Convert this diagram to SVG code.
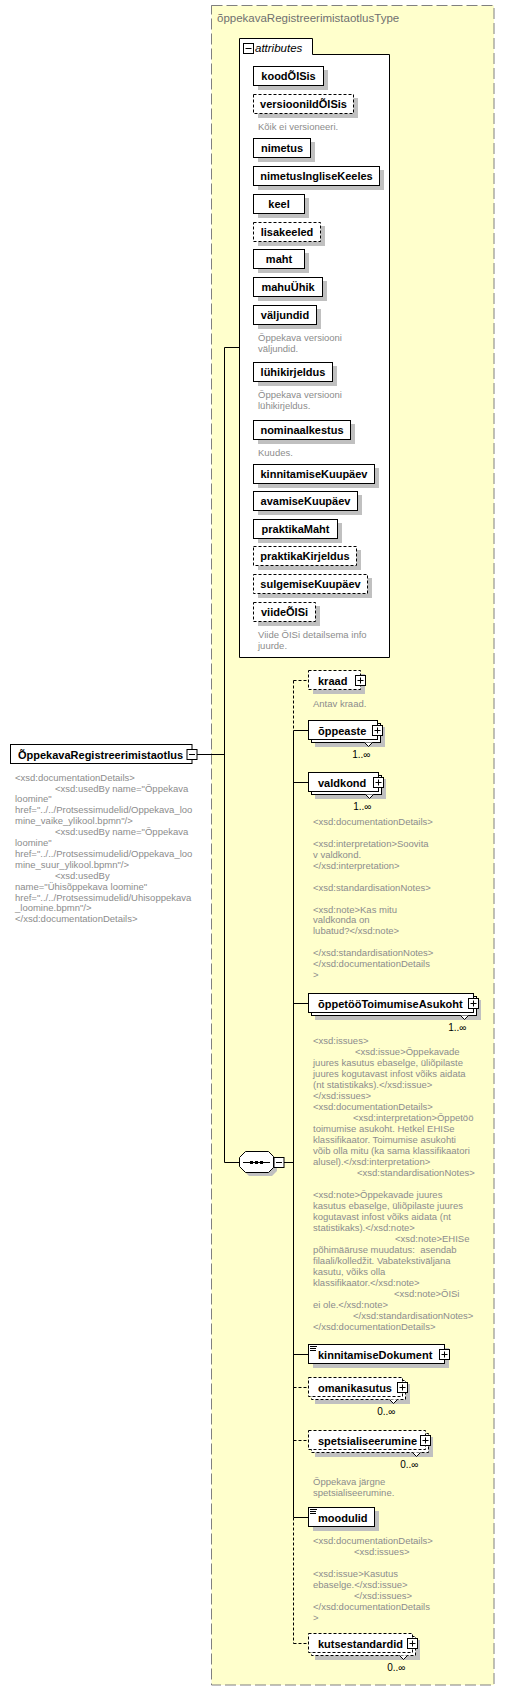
<svg xmlns="http://www.w3.org/2000/svg" width="505" height="1690" viewBox="0 0 505 1690">
<style>
.n{font-family:"Liberation Sans",Arial,sans-serif;font-size:11px;font-weight:bold;fill:#000}
.c{text-anchor:middle}
.d{font-family:"Liberation Sans",Arial,sans-serif;font-size:9.5px;fill:#8c8c8c}
.m{font-family:"Liberation Sans",Arial,sans-serif;font-size:10px;fill:#000;text-anchor:end}
.t{font-family:"Liberation Sans",Arial,sans-serif;font-size:11.5px;fill:#707070}
.bx{fill:#fff;stroke:#000;stroke-width:1}
.o{stroke-dasharray:3,2}
.sh{fill:#c0c0c0}
.ln{fill:none;stroke:#000;stroke-width:1}
.dl{stroke-dasharray:3,2}
.nt{fill:#fff;stroke:#000;stroke-width:1}
</style>
<defs>
<g id="plus"><rect x="-5" y="-5" width="10" height="10" fill="#fff" stroke="#000"/><path d="M-3,0H3M0,-3V3" stroke="#000"/></g>
<g id="minus"><rect x="-5" y="-5" width="10" height="10" fill="#fff" stroke="#000"/><path d="M-3,0H3" stroke="#000"/></g>
</defs>

<g id="complexType">
<rect x="211.5" y="5.5" width="282.5" height="1679.5" fill="#ffffcc" stroke="#808080" stroke-dasharray="11,4"/>
<text class="t" x="217" y="22">õppekavaRegistreerimistaotlusType</text>
</g>

<g id="connectors">
<path class="ln" d="M197,754.5H224.5M224.5,347.5V1162.5M224.5,347.5H239.5M224.5,1162.5H239M284,1162.5H293.5"/>
<path class="ln dl" d="M293.5,680.5H308.5M293.5,680.5V730.5"/>
<path class="ln" d="M293.5,730.5V1517.5M293.5,730.5H308.5M293.5,782.5H308.5M293.5,1003.5H308.5M293.5,1354.5H308.5M293.5,1517.5H308.5"/>
<path class="ln dl" d="M293.5,1387.5H308.5M293.5,1440.5H308.5M293.5,1517.5V1643.5M293.5,1643.5H308.5"/>
</g>

<g id="root">
<rect class="bx" x="10.5" y="744.5" width="181.5" height="19"/>
<text class="n" x="18" y="758.5">ÕppekavaRegistreerimistaotlus</text>
<use href="#minus" x="192" y="754.5"/>
<text class="d" x="15" y="780.6">&lt;xsd:documentationDetails&gt;</text>
<text class="d" x="55" y="791.5">&lt;xsd:usedBy name="Õppekava</text>
<text class="d" x="15" y="802.4">loomine"</text>
<text class="d" x="15" y="813.3">href="../../Protsessimudelid/Oppekava_loo</text>
<text class="d" x="15" y="824.2">mine_vaike_ylikool.bpmn"/&gt;</text>
<text class="d" x="55" y="835.1">&lt;xsd:usedBy name="Õppekava</text>
<text class="d" x="15" y="846">loomine"</text>
<text class="d" x="15" y="856.9">href="../../Protsessimudelid/Oppekava_loo</text>
<text class="d" x="15" y="867.8">mine_suur_ylikool.bpmn"/&gt;</text>
<text class="d" x="55" y="878.7">&lt;xsd:usedBy</text>
<text class="d" x="15" y="889.6">name="Ühisõppekava loomine"</text>
<text class="d" x="15" y="900.5">href="../../Protsessimudelid/Uhisoppekava</text>
<text class="d" x="15" y="911.4">_loomine.bpmn"/&gt;</text>
<text class="d" x="15" y="922.3">&lt;/xsd:documentationDetails&gt;</text>
</g>

<g id="attributes">
<path class="bx" d="M239.5,38.5H312.5V54.5H389.5V657.5H239.5Z"/>
<use href="#minus" x="248.5" y="48.5"/>
<text x="255" y="52" font-family="Liberation Sans, Arial, sans-serif" font-size="11.5" font-style="italic" fill="#000">attributes</text>
</g>

<g id="attr-koodOISis"><rect class="sh" x="258" y="70" width="70" height="20"/><rect class="bx" x="253.5" y="66.5" width="70" height="19"/><text class="n c" x="288.5" y="80">koodÕISis</text></g>
<g id="attr-versioonildOISis"><rect class="sh" x="258" y="98" width="100" height="20"/><rect class="bx o" x="253.5" y="94.5" width="100" height="19"/><text class="n c" x="303.5" y="108">versioonildÕISis</text><text class="d" x="258" y="129.5">Kõik ei versioneeri.</text></g>
<g id="attr-nimetus"><rect class="sh" x="258" y="142" width="57" height="20"/><rect class="bx" x="253.5" y="138.5" width="57" height="19"/><text class="n c" x="282" y="152">nimetus</text></g>
<g id="attr-nimetusIngliseKeeles"><rect class="sh" x="258" y="170" width="126" height="20"/><rect class="bx" x="253.5" y="166.5" width="126" height="19"/><text class="n c" x="316.5" y="180">nimetusIngliseKeeles</text></g>
<g id="attr-keel"><rect class="sh" x="258" y="198" width="51" height="20"/><rect class="bx" x="253.5" y="194.5" width="51" height="19"/><text class="n c" x="279" y="208">keel</text></g>
<g id="attr-lisakeeled"><rect class="sh" x="258" y="226" width="67" height="20"/><rect class="bx o" x="253.5" y="222.5" width="67" height="19"/><text class="n c" x="287" y="236">lisakeeled</text></g>
<g id="attr-maht"><rect class="sh" x="258" y="253" width="51" height="20"/><rect class="bx" x="253.5" y="249.5" width="51" height="19"/><text class="n c" x="279" y="263">maht</text></g>
<g id="attr-mahuYhik"><rect class="sh" x="258" y="281" width="69" height="20"/><rect class="bx" x="253.5" y="277.5" width="69" height="19"/><text class="n c" x="288" y="291">mahuÜhik</text></g>
<g id="attr-valjundid"><rect class="sh" x="258" y="309" width="63" height="20"/><rect class="bx" x="253.5" y="305.5" width="63" height="19"/><text class="n c" x="285" y="319">väljundid</text><text class="d" x="258" y="340.5">Õppekava versiooni</text><text class="d" x="258" y="351.5">väljundid.</text></g>
<g id="attr-luhikirjeldus"><rect class="sh" x="258" y="366" width="79" height="20"/><rect class="bx" x="253.5" y="362.5" width="79" height="19"/><text class="n c" x="293" y="376">lühikirjeldus</text><text class="d" x="258" y="397.5">Õppekava versiooni</text><text class="d" x="258" y="408.5">lühikirjeldus.</text></g>
<g id="attr-nominaalkestus"><rect class="sh" x="258" y="424" width="97" height="20"/><rect class="bx" x="253.5" y="420.5" width="97" height="19"/><text class="n c" x="302" y="434">nominaalkestus</text><text class="d" x="258" y="455.5">Kuudes.</text></g>
<g id="attr-kinnitamiseKuupaev"><rect class="sh" x="258" y="468" width="121" height="20"/><rect class="bx" x="253.5" y="464.5" width="121" height="19"/><text class="n c" x="314" y="478">kinnitamiseKuupäev</text></g>
<g id="attr-avamiseKuupaev"><rect class="sh" x="258" y="495" width="104" height="20"/><rect class="bx" x="253.5" y="491.5" width="104" height="19"/><text class="n c" x="305.5" y="505">avamiseKuupäev</text></g>
<g id="attr-praktikaMaht"><rect class="sh" x="258" y="523" width="84" height="20"/><rect class="bx" x="253.5" y="519.5" width="84" height="19"/><text class="n c" x="295.5" y="533">praktikaMaht</text></g>
<g id="attr-praktikaKirjeldus"><rect class="sh" x="258" y="550" width="103" height="20"/><rect class="bx o" x="253.5" y="546.5" width="103" height="19"/><text class="n c" x="305" y="560">praktikaKirjeldus</text></g>
<g id="attr-sulgemiseKuupaev"><rect class="sh" x="258" y="578" width="114" height="20"/><rect class="bx o" x="253.5" y="574.5" width="114" height="19"/><text class="n c" x="310.5" y="588">sulgemiseKuupäev</text></g>
<g id="attr-viideOISi"><rect class="sh" x="258" y="606" width="62" height="20"/><rect class="bx o" x="253.5" y="602.5" width="62" height="19"/><text class="n c" x="284.5" y="616">viideÕISi</text><text class="d" x="258" y="637.5">Viide ÕISi detailsema info</text><text class="d" x="258" y="648.5">juurde.</text></g>

<g id="sequence">
<polygon class="sh" points="249,1155 272,1155 277,1160 277,1171 272,1176 249,1176 243,1170 243,1161"/>
<polygon class="bx" points="245.5,1151.5 268.5,1151.5 273.5,1156.5 273.5,1167.5 268.5,1172.5 245.5,1172.5 239.5,1166.5 239.5,1157.5"/>
<path class="ln" d="M243,1162.5H270"/>
<rect x="250" y="1161" width="3" height="3" fill="#000"/>
<rect x="255" y="1161" width="3" height="3" fill="#000"/>
<rect x="260" y="1161" width="3" height="3" fill="#000"/>
<use href="#minus" x="279" y="1162.5"/>
</g>

<g id="el-kraad">
<rect class="sh" x="313" y="674" width="52" height="20"/>
<rect class="bx o" x="308.5" y="670.5" width="52" height="19"/>
<text class="n" x="318" y="684.5">kraad</text>
<use href="#plus" x="360.5" y="680.5"/>
<text class="d" x="313" y="706.5">Antav kraad.</text>
</g>

<g id="el-oppeaste">
<rect class="sh" x="315" y="727" width="70" height="20"/>
<rect class="bx" x="311.5" y="723.5" width="69" height="19"/>
<rect class="bx" x="308.5" y="720.5" width="69" height="19"/>
<text class="n" x="318" y="734.5">õppeaste</text>
<use href="#plus" x="377.5" y="730.5"/>
<path class="nt" d="M364.5,742.5l4,4l4,-4"/>
<text class="m" x="370.5" y="757.5">1..∞</text>
</g>

<g id="el-valdkond">
<rect class="sh" x="315" y="779" width="71" height="20"/>
<rect class="bx" x="311.5" y="775.5" width="70" height="19"/>
<rect class="bx" x="308.5" y="772.5" width="70" height="19"/>
<text class="n" x="318" y="786.5">valdkond</text>
<use href="#plus" x="378.5" y="782.5"/>
<path class="nt" d="M365.5,794.5l4,4l4,-4"/>
<text class="m" x="371.5" y="809.5">1..∞</text>
<text class="d" x="313" y="825.3">&lt;xsd:documentationDetails&gt;</text>
<text class="d" x="313" y="847.1">&lt;xsd:interpretation&gt;Soovita</text>
<text class="d" x="313" y="858">v valdkond.</text>
<text class="d" x="313" y="868.9">&lt;/xsd:interpretation&gt;</text>
<text class="d" x="313" y="890.7">&lt;xsd:standardisationNotes&gt;</text>
<text class="d" x="313" y="912.5">&lt;xsd:note&gt;Kas mitu</text>
<text class="d" x="313" y="923.4">valdkonda on</text>
<text class="d" x="313" y="934.3">lubatud?&lt;/xsd:note&gt;</text>
<text class="d" x="313" y="956.1">&lt;/xsd:standardisationNotes&gt;</text>
<text class="d" x="313" y="967">&lt;/xsd:documentationDetails</text>
<text class="d" x="313" y="977.9">&gt;</text>
</g>

<g id="el-oppetooToimumiseAsukoht">
<rect class="sh" x="315" y="1000" width="166" height="20"/>
<rect class="bx" x="311.5" y="996.5" width="165" height="19"/>
<rect class="bx" x="308.5" y="993.5" width="165" height="19"/>
<text class="n" x="318" y="1007.5">õppetööToimumiseAsukoht</text>
<use href="#plus" x="473.5" y="1003.5"/>
<path class="nt" d="M460.5,1015.5l4,4l4,-4"/>
<text class="m" x="466.5" y="1030.5">1..∞</text>
<text class="d" x="313" y="1044.3">&lt;xsd:issues&gt;</text>
<text class="d" x="355" y="1055.3">&lt;xsd:issue&gt;Õppekavade</text>
<text class="d" x="313" y="1066.3">juures kasutus ebaselge, üliõpilaste</text>
<text class="d" x="313" y="1077.3">juures kogutavast infost võiks aidata</text>
<text class="d" x="313" y="1088.3">(nt statistikaks).&lt;/xsd:issue&gt;</text>
<text class="d" x="313" y="1099.3">&lt;/xsd:issues&gt;</text>
<text class="d" x="313" y="1110.3">&lt;xsd:documentationDetails&gt;</text>
<text class="d" x="353" y="1121.3">&lt;xsd:interpretation&gt;Õppetöö</text>
<text class="d" x="313" y="1132.3">toimumise asukoht. Hetkel EHISe</text>
<text class="d" x="313" y="1143.3">klassifikaator. Toimumise asukohti</text>
<text class="d" x="313" y="1154.3">võib olla mitu (ka sama klassifikaatori</text>
<text class="d" x="313" y="1165.3">alusel).&lt;/xsd:interpretation&gt;</text>
<text class="d" x="357" y="1176.3">&lt;xsd:standardisationNotes&gt;</text>
<text class="d" x="313" y="1198.3">&lt;xsd:note&gt;Õppekavade juures</text>
<text class="d" x="313" y="1209.3">kasutus ebaselge, üliõpilaste juures</text>
<text class="d" x="313" y="1220.3">kogutavast infost võiks aidata (nt</text>
<text class="d" x="313" y="1231.3">statistikaks).&lt;/xsd:note&gt;</text>
<text class="d" x="395" y="1242.3">&lt;xsd:note&gt;EHISe</text>
<text class="d" x="313" y="1253.3">põhimääruse muudatus:&#160; asendab</text>
<text class="d" x="313" y="1264.3">filaali/kolledžit. Vabatekstiväljana</text>
<text class="d" x="313" y="1275.3">kasutu, võiks olla</text>
<text class="d" x="313" y="1286.3">klassifikaator.&lt;/xsd:note&gt;</text>
<text class="d" x="394" y="1297.3">&lt;xsd:note&gt;ÕISi</text>
<text class="d" x="313" y="1308.3">ei ole.&lt;/xsd:note&gt;</text>
<text class="d" x="353" y="1319.3">&lt;/xsd:standardisationNotes&gt;</text>
<text class="d" x="313" y="1330.3">&lt;/xsd:documentationDetails&gt;</text>
</g>

<g id="el-kinnitamiseDokument">
<rect class="sh" x="313" y="1348" width="136" height="20"/>
<rect class="bx" x="308.5" y="1344.5" width="136" height="19"/>
<path class="ln" d="M310,1346.5h7M310,1348.5h6M310,1350.5h6"/>
<text class="n" x="318" y="1358.5">kinnitamiseDokument</text>
<use href="#plus" x="444.5" y="1354.5"/>
</g>

<g id="el-omanikasutus">
<rect class="sh" x="315" y="1384" width="95" height="20"/>
<rect class="bx o" x="311.5" y="1380.5" width="94" height="19"/>
<rect class="bx o" x="308.5" y="1377.5" width="94" height="19"/>
<text class="n" x="318" y="1391.5">omanikasutus</text>
<use href="#plus" x="402.5" y="1387.5"/>
<path class="nt" d="M389.5,1399.5l4,4l4,-4"/>
<text class="m" x="395.5" y="1414.5">0..∞</text>
</g>

<g id="el-spetsialiseerumine">
<rect class="sh" x="315" y="1437" width="118" height="20"/>
<rect class="bx o" x="311.5" y="1433.5" width="117" height="19"/>
<rect class="bx o" x="308.5" y="1430.5" width="117" height="19"/>
<text class="n" x="318" y="1444.5">spetsialiseerumine</text>
<use href="#plus" x="425.5" y="1440.5"/>
<path class="nt" d="M412.5,1452.5l4,4l4,-4"/>
<text class="m" x="418.5" y="1467.5">0..∞</text>
<text class="d" x="313" y="1484.5">Õppekava järgne</text>
<text class="d" x="313" y="1495.5">spetsialiseerumine.</text>
</g>

<g id="el-moodulid">
<rect class="sh" x="313" y="1511" width="66" height="20"/>
<rect class="bx" x="308.5" y="1507.5" width="66" height="19"/>
<path class="ln" d="M310,1509.5h7M310,1511.5h6M310,1513.5h6"/>
<text class="n" x="318" y="1521.5">moodulid</text>
<text class="d" x="313" y="1544.3">&lt;xsd:documentationDetails&gt;</text>
<text class="d" x="354" y="1555.3">&lt;xsd:issues&gt;</text>
<text class="d" x="313" y="1577.3">&lt;xsd:issue&gt;Kasutus</text>
<text class="d" x="313" y="1588.3">ebaselge.&lt;/xsd:issue&gt;</text>
<text class="d" x="354" y="1599.3">&lt;/xsd:issues&gt;</text>
<text class="d" x="313" y="1610.3">&lt;/xsd:documentationDetails</text>
<text class="d" x="313" y="1621.3">&gt;</text>
</g>

<g id="el-kutsestandardid">
<rect class="sh" x="315" y="1640" width="105" height="20"/>
<rect class="bx o" x="311.5" y="1636.5" width="104" height="19"/>
<rect class="bx o" x="308.5" y="1633.5" width="104" height="19"/>
<text class="n" x="318" y="1647.5">kutsestandardid</text>
<use href="#plus" x="412.5" y="1643.5"/>
<path class="nt" d="M399.5,1655.5l4,4l4,-4"/>
<text class="m" x="405.5" y="1670.5">0..∞</text>
</g>
</svg>
